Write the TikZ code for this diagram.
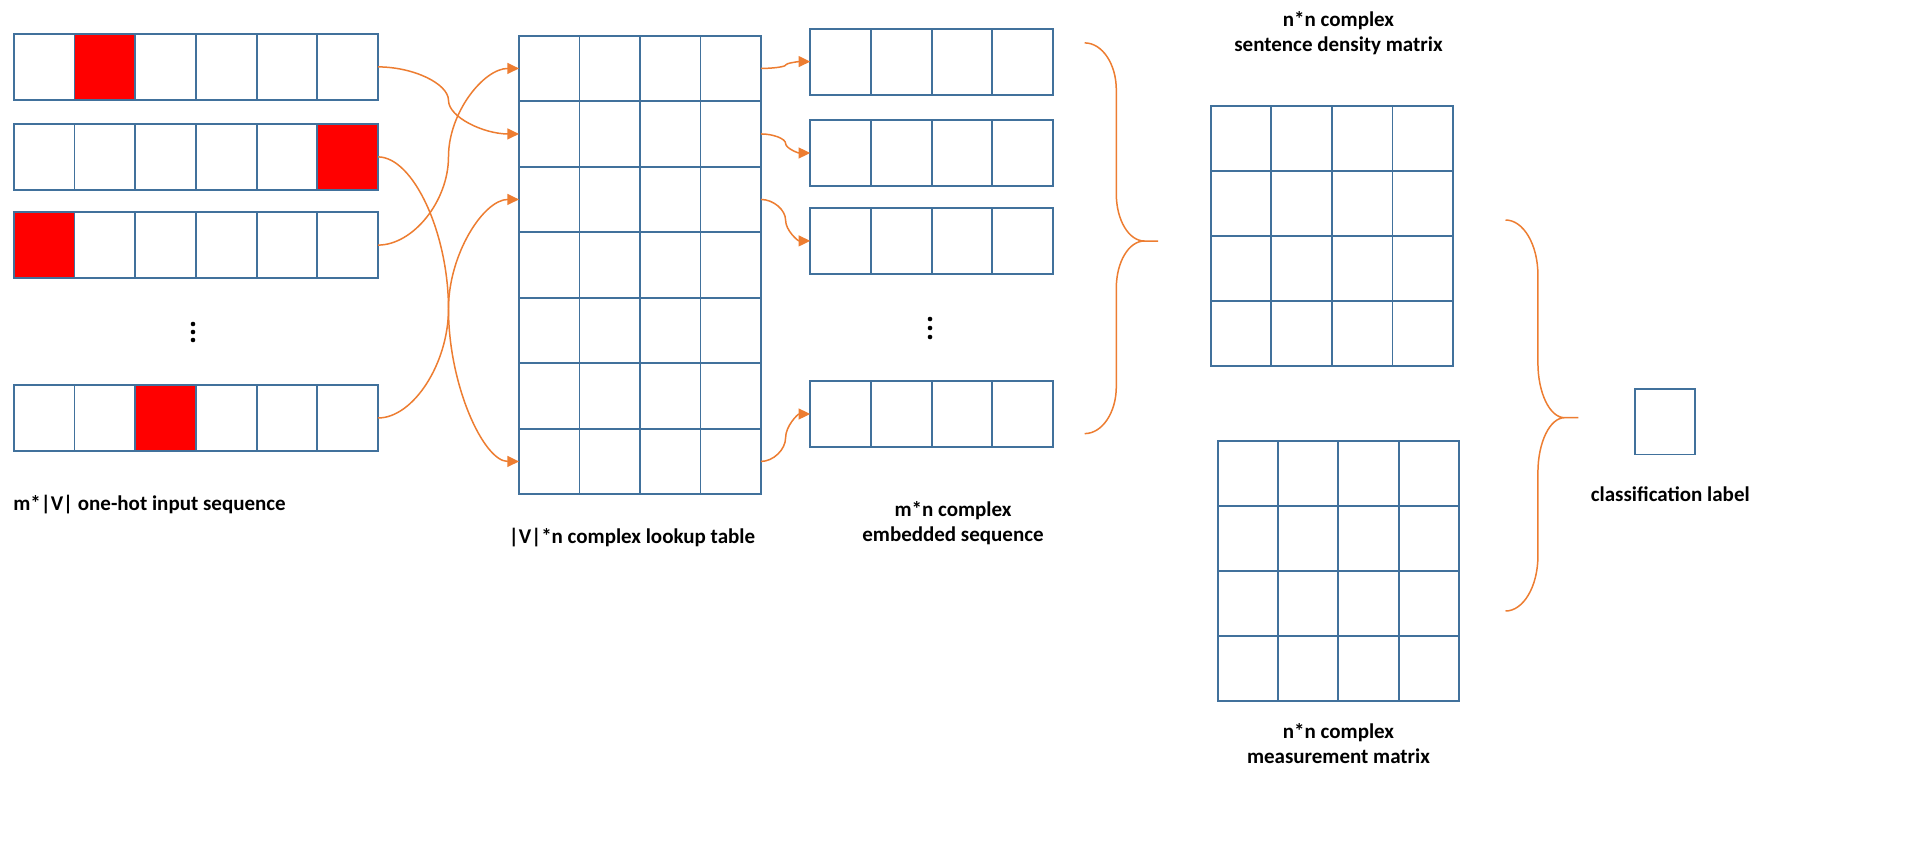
\documentclass[tikz,border=0pt]{standalone}
\usepackage{fontspec}
\setmainfont{Carlito}
\usetikzlibrary{arrows.meta,calc}
\definecolor{cellblue}{HTML}{41719C}
\definecolor{hotred}{HTML}{FF0000}
\definecolor{arrorange}{HTML}{ED7D31}
\tikzset{
  cell/.style 2 args={rectangle, draw=cellblue, line width=1.1pt, minimum width=#1, minimum height=#2, inner sep=0pt, outer sep=0pt, anchor=north west},
  conn/.style={draw=arrorange, line width=0.85pt, -{Triangle[length=6.6pt,width=6.2pt]}},
  brace/.style={draw=arrorange, line width=0.85pt},
  lbl/.style={font=\bfseries\fontsize{11.95}{14.2}\selectfont, align=center, inner sep=0pt},
  dotmark/.style={fill=black, draw=none},
  pptcurve/.style={to path={
    let \p1=(\tikztostart), \p2=(\tikztotarget) in
    .. controls ({0.75*\x1+0.25*\x2},\y1) and ({0.5*\x1+0.5*\x2},{0.75*\y1+0.25*\y2}) .. ({0.5*\x1+0.5*\x2},{0.5*\y1+0.5*\y2})
    .. controls ({0.5*\x1+0.5*\x2},{0.25*\y1+0.75*\y2}) and ({0.25*\x1+0.75*\x2},\y2) .. (\tikztotarget) \tikztonodes}}
}
\begin{document}
\begin{tikzpicture}[x=0.02cm,y=0.02cm]
\fill[white] (0,0) rectangle (1905,-845);
\useasboundingbox (0,0) rectangle (1905,-845);

% one-hot input rows
\foreach \r/\ty/\hot in {1/33.9/2,2/123.9/6,3/212.1/1,4/385/3}{
  \foreach \c in {1,...,6}{
    \ifnum\c=\hot\relax \def\cf{hotred}\else\def\cf{white}\fi
    \node[cell={1.214cm}{1.32cm}, fill=\cf] (in-\r-\c) at ({13.8+(\c-1)*60.7},-\ty) {};
  }
}
\foreach \yy in {324,332,340}{\fill[dotmark] (193,-\yy) circle[radius=2.3];}

% lookup table
\foreach \r in {1,...,7}{
  \foreach \c in {1,...,4}{
    \node[cell={1.21cm}{1.31cm}] (lut-\r-\c) at ({519+(\c-1)*60.5},{-35.7-(\r-1)*65.5}) {};
  }
}

% embedded sequence
\foreach \r/\ty in {1/28.6,2/120,3/207.9,4/381}{
  \foreach \c in {1,...,4}{
    \node[cell={1.214cm}{1.32cm}] (emb-\r-\c) at ({810.2+(\c-1)*60.7},-\ty) {};
  }
}
\foreach \yy in {319,328,337}{\fill[dotmark] (930,-\yy) circle[radius=2.3];}

% density matrix
\foreach \r in {1,...,4}{
  \foreach \c in {1,...,4}{
    \node[cell={1.212cm}{1.296cm}] (den-\r-\c) at ({1210.7+(\c-1)*60.6},{-106.4-(\r-1)*64.8}) {};
  }
}

% measurement matrix
\foreach \r in {1,...,4}{
  \foreach \c in {1,...,4}{
    \node[cell={1.204cm}{1.30cm}] (mea-\r-\c) at ({1218+(\c-1)*60.2},{-440.8-(\r-1)*65}) {};
  }
}

% classification label box
\node[cell={1.2cm}{1.312cm}] (cls) at (1634.9,-388.9) {};

% connectors input -> lookup
\draw[conn] (in-1-6.east) to[pptcurve] (lut-2-1.west);
\draw[conn] (in-2-6.east) to[pptcurve] (lut-7-1.west);
\draw[conn] (in-3-6.east) to[pptcurve] (lut-1-1.west);
\draw[conn] (in-4-6.east) to[pptcurve] (lut-3-1.west);
% connectors lookup -> embedded
\draw[conn] (lut-1-4.east) to[pptcurve] (emb-1-1.west);
\draw[conn] (lut-2-4.east) to[pptcurve] (emb-2-1.west);
\draw[conn] (lut-3-4.east) to[pptcurve] (emb-3-1.west);
\draw[conn] (lut-7-4.east) to[pptcurve] (emb-4-1.west);

% braces
\draw[brace] (1084.7,-42.9) arc[start angle=90,end angle=0,x radius=31.6,y radius=47]
  -- (1116.3,-194) arc[start angle=180,end angle=270,x radius=28,y radius=47]
  arc[start angle=90,end angle=180,x radius=28,y radius=47]
  -- (1116.3,-386.6) arc[start angle=0,end angle=-90,x radius=31.6,y radius=47]
  (1144.3,-241) -- (1158,-241);
\draw[brace] (1505.5,-220) arc[start angle=90,end angle=0,x radius=32.4,y radius=55]
  -- (1537.9,-362.7) arc[start angle=180,end angle=270,x radius=26.7,y radius=55]
  arc[start angle=90,end angle=180,x radius=26.7,y radius=55]
  -- (1537.9,-556) arc[start angle=0,end angle=-90,x radius=32.4,y radius=55]
  (1564.6,-417.7) -- (1578.4,-417.7);

% labels
\node[lbl] (lbl-in) at (149.5,-504.6) {m*|V| one-hot input sequence};
\node[lbl] (lbl-lut) at (632,-537.5) {|V|*n complex lookup table};
\node[lbl] (lbl-emb) at (953,-523.2) {m*n complex\\embedded sequence};
\node[lbl] (lbl-den) at (1338.5,-33.5) {n*n complex\\sentence density matrix};
\node[lbl] (lbl-mea) at (1338.5,-744) {n*n complex\\measurement matrix};
\node[lbl] (lbl-cls) at (1670.3,-494.4) {classification label};
\end{tikzpicture}
\end{document}
